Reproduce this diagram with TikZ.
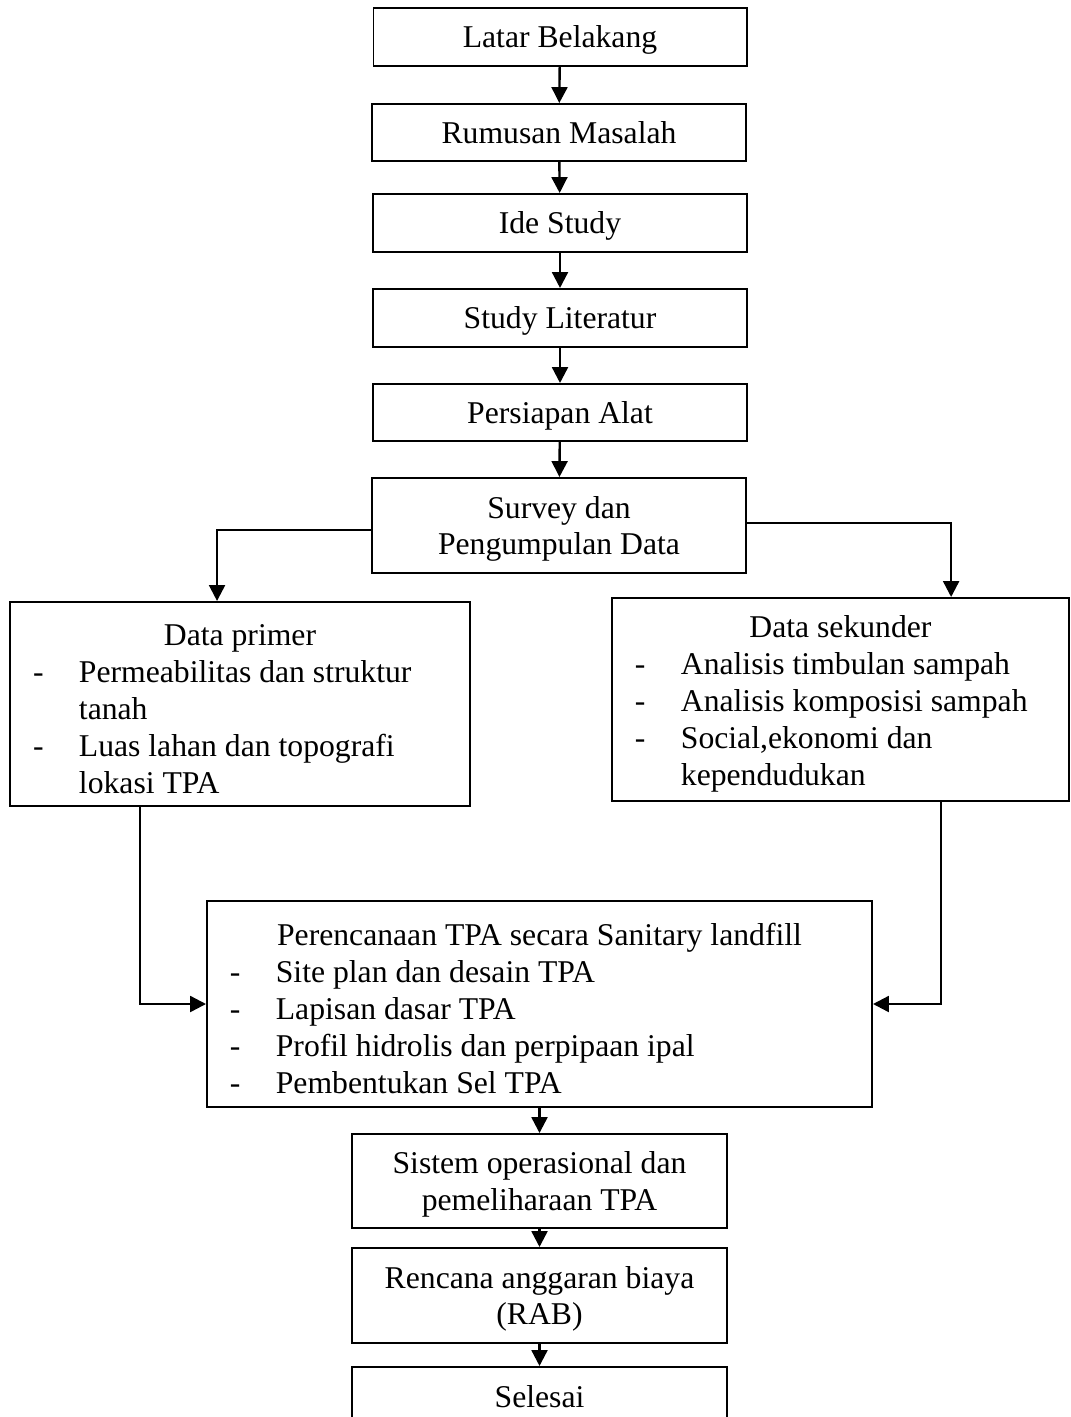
\documentclass[tikz,border=0pt]{standalone}
\usepackage{fontspec}
\setmainfont{Liberation Serif}
\usepackage{tikz}
\usetikzlibrary{arrows.meta}

\newlength{\dashw}
\setlength{\dashw}{17.4pt}
\newcommand{\dashitem}{\makebox[\dashw][l]{-}}
\newcommand{\dashcont}{\hspace*{\dashw}}
\newcommand{\plainsp}{\spaceskip=0pt\relax\xspaceskip=0pt\relax}
\newcommand{\boxtitle}[1]{{\centering\rule{0pt}{11.8pt}#1\par}}

\begin{document}
\begin{tikzpicture}[x=0.3788pt, y=-0.3788pt,
	>={Triangle[length=6pt,width=6pt]},
	every node/.style={font=\fontsize{12}{14}\selectfont},
	flowbox/.style={draw, line width=0.75pt, align=center, inner sep=0pt, text depth=0pt},
	listbox/.style={draw, line width=0.75pt, align=left, inner xsep=8.7pt, inner ysep=0pt},
	every path/.append style={line width=0.9pt}]
	\useasboundingbox (0,0) rectangle (1070,1417);
	\node[flowbox, minimum width=141.3pt, minimum height=22pt] (b1) at (560,37) {Latar Belakang};
	\node[flowbox, minimum width=142pt, minimum height=21.6pt] (b2) at (559,132.5) {Rumusan Masalah};
	\node[flowbox, minimum width=141.7pt, minimum height=22pt] (b3) at (560,223) {Ide Study};
	\node[flowbox, minimum width=141.7pt, minimum height=22pt] (b4) at (560,318) {Study Literatur};
	\node[flowbox, minimum width=141.7pt, minimum height=21.6pt] (b5) at (560,412.5) {Persiapan Alat};
	\node[flowbox, minimum width=141.7pt, minimum height=36pt] (b6) at (559,525.5) {Survey dan\\Pengumpulan Data};
	\node[listbox, text width=156.8pt, minimum height=77.3pt] (b7) at (240,704)
		{\plainsp\boxtitle{Data primer}
		\dashitem Permeabilitas dan struktur\\
		\dashcont tanah\\
		\dashitem Luas lahan dan topografi\\
		\dashcont lokasi TPA};
	\node[listbox, text width=155.7pt, minimum height=76.9pt] (b8) at (840.5,699.5)
		{\plainsp\boxtitle{Data sekunder}
		\dashitem Analisis timbulan sampah\\
		\dashitem Analisis komposisi sampah\\
		\dashitem Social,ekonomi dan\\
		\dashcont kependudukan};
	\node[listbox, text width=234.5pt, minimum height=77.7pt] (b9) at (539.5,1004)
		{\plainsp\boxtitle{Perencanaan TPA secara Sanitary landfill}
		\dashitem Site plan dan desain TPA\\
		\dashitem Lapisan dasar TPA\\
		\dashitem Profil hidrolis dan perpipaan ipal\\
		\dashitem Pembentukan Sel TPA};
	\node[flowbox, minimum width=142pt, minimum height=35.6pt] (b10) at (539.5,1181) {Sistem operasional dan\\pemeliharaan TPA};
	\node[flowbox, minimum width=142pt, minimum height=36pt] (b11) at (539.5,1295.5) {Rencana anggaran biaya\\(RAB)};
	\node[flowbox, minimum width=142pt, minimum height=22pt] (b12) at (539.5,1396) {Selesai};
	\draw [->] (b1) edge (b2);
	\draw [->] (b2) edge (b3);
	\draw [->] (b3) edge (b4);
	\draw [->] (b4) edge (b5);
	\draw [->] (b5) edge (b6);
	\draw [->] ([yshift=-1.7pt]b6.west) -| ([xshift=-8.7pt]b7.north);
	\draw [->] ([yshift=0.9pt]b6.east) -| ([xshift=41.9pt]b8.north);
	\draw [->] ([xshift=-37.9pt]b7.south) |- (b9.west);
	\draw [->] ([xshift=38.1pt]b8.south) |- (b9.east);
	\draw [->] (b9) edge (b10);
	\draw [->] (b10) edge (b11);
	\draw [->] (b11) edge (b12);
\end{tikzpicture}
\end{document}
